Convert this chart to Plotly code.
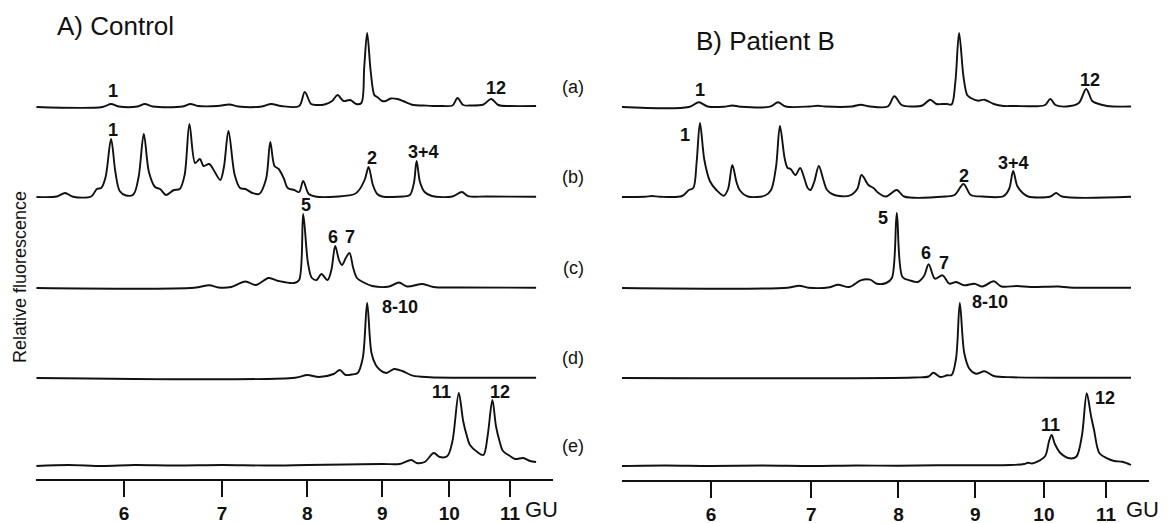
import math
import plotly.graph_objects as go

# ---------------- data (GU position, relative fluorescence) ----------------
gu_ticks = [6, 7, 8, 9, 10, 11]
gu_tick_labels = ["6", "7", "8", "9", "10", "11"]
row_names = ["(a)", "(b)", "(c)", "(d)", "(e)"]

control_a = [(5.23, 0), (5.80, 0), (5.88, 3), (5.95, 0.5), (6.13, 0.5), (6.20, 3), (6.28, 0.5),
             (6.58, 0.5), (6.66, 3), (6.74, 1), (6.95, 1), (7.08, 2.5), (7.18, 0.5), (7.45, 0.5),
             (7.56, 3), (7.68, 1), (7.90, 1), (7.97, 15), (8.05, 3), (8.12, 2), (8.22, 2.5),
             (8.32, 6), (8.39, 12), (8.47, 6), (8.56, 7), (8.64, 3), (8.71, 4), (8.75, 40),
             (8.79, 74), (8.84, 35), (8.89, 12), (8.93, 10), (9.00, 6), (9.05, 6), (9.12, 8.5),
             (9.22, 8), (9.30, 6), (9.45, 2), (9.60, 1.5), (9.75, 1), (9.90, 1), (10.05, 1.5),
             (10.13, 9), (10.22, 2), (10.35, 1.5), (10.55, 2.5), (10.68, 8), (10.80, 2),
             (11.00, 1), (11.46, 1)]

control_b = [(5.23, 0), (5.40, 0.5), (5.47, 4), (5.54, 0.3), (5.70, 0.5), (5.75, 8), (5.79, 9),
             (5.83, 20), (5.88, 58), (5.92, 25), (5.96, 6), (6.02, 1.5), (6.09, 2.5), (6.14, 20),
             (6.19, 63), (6.24, 25), (6.30, 10), (6.35, 8), (6.41, 2), (6.49, 7), (6.55, 8),
             (6.60, 22), (6.65, 73), (6.71, 34), (6.76, 38), (6.80, 31), (6.86, 33), (6.92, 25),
             (6.98, 17), (7.02, 30), (7.07, 66), (7.14, 22), (7.20, 9), (7.26, 8), (7.34, 4),
             (7.42, 3), (7.50, 18), (7.55, 55), (7.60, 31), (7.65, 28), (7.71, 19), (7.76, 9),
             (7.84, 7), (7.90, 5), (7.95, 16), (8.02, 3), (8.10, 0.5), (8.40, 0.5), (8.62, 3),
             (8.68, 7), (8.76, 18), (8.81, 30), (8.87, 12), (8.93, 3), (9.00, 0.5), (9.30, 0.5),
             (9.40, 2), (9.46, 14), (9.50, 36), (9.55, 15), (9.62, 5), (9.73, 1), (10.05, 0.5),
             (10.20, 5), (10.30, 0.8), (10.60, 0.5), (11.46, 0.3)]

control_c = [(5.23, 0), (6.70, 0.3), (6.86, 2.7), (6.96, 0.5), (7.10, 1), (7.26, 6.5), (7.38, 3),
             (7.53, 10), (7.65, 7), (7.84, 5), (7.90, 8), (7.95, 74), (8.01, 25), (8.06, 10),
             (8.12, 8), (8.18, 14), (8.26, 8), (8.31, 18), (8.36, 42), (8.41, 28), (8.45, 23),
             (8.50, 30), (8.55, 35), (8.60, 20), (8.65, 10), (8.73, 6), (8.86, 2), (9.10, 1.5),
             (9.24, 5.5), (9.36, 1.5), (9.59, 4), (9.75, 1), (10.20, 0.5), (11.46, 0.3)]

control_d = [(5.23, 0), (7.85, 0.3), (8.00, 3), (8.15, 1), (8.34, 4), (8.42, 8), (8.50, 3),
             (8.58, 3.5), (8.66, 5), (8.73, 20), (8.79, 75), (8.85, 25), (8.91, 13), (8.97, 8),
             (9.06, 5), (9.17, 9), (9.29, 7), (9.44, 2.3), (9.70, 0.8), (11.46, 0.3)]

control_e = [(5.23, 0), (5.50, 1), (5.80, 0), (6.10, 1), (6.50, 0.5), (7.00, 1), (7.50, 0.5),
             (8.00, 1), (8.50, 1.5), (9.00, 2), (9.25, 2), (9.42, 6), (9.50, 3), (9.62, 4),
             (9.76, 13), (9.85, 9), (9.97, 10), (10.05, 25), (10.15, 73), (10.22, 45),
             (10.28, 30), (10.33, 21), (10.45, 14), (10.55, 11), (10.62, 30), (10.70, 66),
             (10.76, 40), (10.82, 25), (10.88, 15), (11.00, 10), (11.09, 7), (11.23, 8),
             (11.35, 5), (11.46, 4)]

patient_a = [(5.23, 0), (5.80, 0), (5.89, 4.7), (5.97, 0.5), (6.12, 0.3), (6.20, 1.5), (6.28, 0.3),
             (6.57, 0.3), (6.65, 4.7), (6.73, 0.5), (6.98, 0.5), (7.07, 1.3), (7.15, 0.5),
             (7.45, 0.5), (7.55, 2.3), (7.66, 0.5), (7.87, 0.5), (7.95, 10.7), (8.04, 2),
             (8.17, 0.5), (8.30, 1.5), (8.40, 7.3), (8.48, 3), (8.55, 3), (8.62, 3), (8.68, 2.5),
             (8.73, 25), (8.78, 74), (8.84, 30), (8.89, 12), (8.94, 9), (9.04, 6.3), (9.13, 7.3),
             (9.26, 3), (9.40, 1), (9.55, 1), (9.90, 0.8), (10.02, 2), (10.10, 8), (10.18, 2),
             (10.35, 0.5), (10.55, 4), (10.67, 18), (10.77, 6), (10.83, 4), (11.02, 1), (11.43, 0.5)]

patient_b = [(5.23, 0), (5.42, 0.3), (5.48, 1), (5.55, 0.3), (5.74, 1), (5.80, 7), (5.84, 9),
             (5.87, 35), (5.90, 74), (5.94, 37), (5.99, 16), (6.05, 7), (6.12, 1.3), (6.16, 8),
             (6.20, 32), (6.24, 15), (6.27, 7), (6.35, 0.5), (6.52, 1.5), (6.58, 7), (6.63, 30),
             (6.67, 71), (6.72, 38), (6.75, 29), (6.78, 28), (6.83, 22), (6.88, 29), (6.92, 20),
             (6.96, 9), (6.99, 7), (7.03, 15), (7.08, 31), (7.13, 17), (7.17, 7), (7.25, 2),
             (7.42, 1.3), (7.51, 8), (7.56, 22), (7.64, 12), (7.70, 9), (7.76, 4), (7.85, 0.5),
             (7.98, 7), (8.07, 0.5), (8.60, 0.5), (8.72, 2), (8.84, 13), (8.94, 2), (9.10, 0.5),
             (9.40, 0.8), (9.48, 8), (9.54, 26), (9.60, 11), (9.68, 4), (9.76, 0.5), (10.10, 0.5),
             (10.19, 4), (10.28, 0.5), (11.43, 0.3)]

patient_c = [(5.23, 0), (6.75, 0.3), (6.87, 2.3), (6.97, 0.3), (7.20, 0.8), (7.29, 3.3), (7.42, 1),
             (7.55, 7.7), (7.66, 8.3), (7.74, 4.3), (7.85, 5), (7.92, 10), (7.98, 75), (8.05, 11),
             (8.14, 7.7), (8.24, 6), (8.32, 12), (8.38, 23.7), (8.46, 9.3), (8.56, 12.7),
             (8.65, 4.3), (8.74, 6), (8.85, 2.7), (8.99, 4.3), (9.10, 1.5), (9.26, 6.7),
             (9.37, 1.5), (9.60, 2), (9.80, 1), (10.23, 1.5), (10.40, 0.5), (11.43, 0.3)]

patient_d = [(5.23, 0), (8.20, 0.5), (8.38, 1.5), (8.44, 5.3), (8.53, 1), (8.62, 2.7), (8.68, 3),
             (8.74, 20), (8.79, 75), (8.85, 25), (8.92, 9.3), (9.01, 4.3), (9.13, 6.7), (9.26, 2),
             (9.54, 0.7), (11.43, 0.3)]

patient_e = [(5.23, 0), (5.60, 0.5), (6.00, 0), (6.50, 0.5), (7.00, 0), (7.50, 0.5), (8.00, 0.3),
             (8.50, 0.8), (9.00, 0.8), (9.50, 1), (9.70, 2), (9.76, 3.3), (9.82, 2.5), (9.90, 4.3),
             (10.02, 10), (10.08, 25), (10.12, 31), (10.17, 22), (10.26, 12.7), (10.40, 7.7),
             (10.51, 9.3), (10.60, 30), (10.68, 72.7), (10.75, 50), (10.80, 36), (10.89, 12.7),
             (11.02, 7.7), (11.14, 5), (11.28, 4.3), (11.43, 1)]

control_peak_labels = ["1", "12", "1", "2", "3+4", "5", "6", "7", "8-10", "11", "12"]
patient_peak_labels = ["1", "12", "1", "2", "3+4", "5", "6", "7", "8-10", "11", "12"]

# ---------------- layout geometry (target-image pixels) ----------------
W, H = 1167, 523
OFF = 8  # the page body margin shifts the plot by 8 px; compensate
row_baselines = [107, 197, 288, 378, 466]
control_label_pos = [(113, 91), (496, 88), (113, 130), (372, 158), (423, 152), (306, 205),
                     (333, 237), (350, 237), (400, 307), (441, 392), (500, 392)]
patient_label_pos = [(700, 90), (1090, 80), (685, 135), (964, 176), (1013, 163), (883, 218),
                     (926, 253), (944, 263), (990, 302), (1050, 425), (1105, 398)]

FONT = "Arial, Liberation Sans, sans-serif"
INK = "#111111"


def xp(x):
    return (x - OFF) / W


def yp(y):
    return 1 - (y - OFF) / H


fig = go.Figure()

panels = [
    ("x", [control_a, control_b, control_c, control_d, control_e], 0),
    ("x2", [patient_a, patient_b, patient_c, patient_d, patient_e], 5),
]
for xref, traces, offset in panels:
    for i, tr in enumerate(traces):
        yname = "y" if offset + i == 0 else f"y{offset + i + 1}"
        fig.add_trace(go.Scatter(
            x=[p[0] for p in tr], y=[p[1] for p in tr],
            xaxis=xref, yaxis=yname, mode="lines",
            line=dict(color=INK, width=1.9, shape="spline", smoothing=0.9),
            hoverinfo="skip", showlegend=False))

lo, hi = -8, 82
layout = dict(
    width=W, height=H, margin=dict(l=0, r=0, t=0, b=0),
    paper_bgcolor="white", plot_bgcolor="rgba(0,0,0,0)", showlegend=False,
    font=dict(family=FONT, color=INK),
)


def xaxis_cfg(d0, d1, log_lo, log_hi, ypos):
    return dict(
        type="log", domain=[xp(d0), xp(d1)], range=[log_lo, log_hi],
        anchor="free", position=yp(ypos),
        showline=True, linecolor=INK, linewidth=2, mirror=False,
        ticks="outside", ticklen=16, tickwidth=1.6, tickcolor=INK,
        tickvals=gu_ticks, ticktext=[f"<b>{t}</b>" for t in gu_tick_labels],
        tickfont=dict(size=19, family=FONT, color=INK),
        showgrid=False, zeroline=False, fixedrange=True)


layout["xaxis"] = xaxis_cfg(36, 553, 0.71820, 1.07071, 480)
layout["xaxis2"] = xaxis_cfg(622, 1149, 0.71890, 1.07004, 481)

for k in range(10):
    b = row_baselines[k % 5]
    key = "yaxis" if k == 0 else f"yaxis{k + 1}"
    layout[key] = dict(
        domain=[yp(b - lo), yp(b - hi)], range=[lo, hi],
        anchor="x" if k < 5 else "x2", visible=False, fixedrange=True)

fig.update_layout(**layout)

ann = []


def add_text(text, x, y, size, bold=False, angle=0, xanchor="center"):
    ann.append(dict(text=f"<b>{text}</b>" if bold else text, x=xp(x), y=yp(y), xref="paper",
                    yref="paper", showarrow=False, xanchor=xanchor, yanchor="middle",
                    textangle=angle, font=dict(size=size, family=FONT, color=INK)))


for t, (x, y) in zip(control_peak_labels, control_label_pos):
    add_text(t, x, y, 18, bold=True)
for t, (x, y) in zip(patient_peak_labels, patient_label_pos):
    add_text(t, x, y, 18, bold=True)
for t, b in zip(row_names, row_baselines):
    add_text(t, 573, b - 20, 18)
add_text("A) Control", 55, 26, 26, xanchor="left")
add_text("B) Patient B", 694, 41, 26, xanchor="left")
add_text("Relative fluorescence", 20, 277, 18, angle=-90)
add_text("GU", 523, 509, 22, xanchor="left")
add_text("GU", 1124, 509, 22, xanchor="left")

fig.update_layout(annotations=ann)
fig.write_html("out.html")
